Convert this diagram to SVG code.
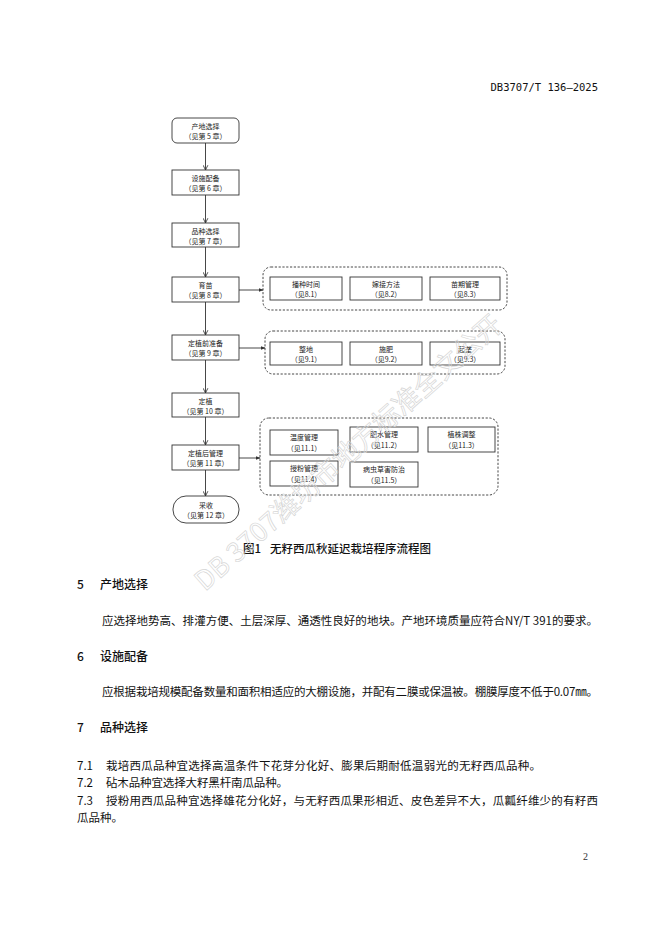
<svg xmlns="http://www.w3.org/2000/svg" width="662" height="936" viewBox="0 0 662 936">
<style>
.bg{fill:#ffffff}
.box{fill:#ffffff;stroke:#333;stroke-width:0.9}
.grp{fill:none;stroke:#333;stroke-width:0.9;stroke-dasharray:2.2 1.6}
.bt{font-family:"Noto Sans CJK SC","Liberation Sans",sans-serif;font-size:7px;fill:#222;text-anchor:middle}
.con{stroke:#333;stroke-width:0.9;fill:none}
.body{font-family:"Noto Sans CJK SC","Liberation Serif",serif;font-size:11.5px;fill:#111}
.head{font-family:"Noto Sans CJK SC","Liberation Sans",sans-serif;font-size:12px;font-weight:500;fill:#111}
.wm{font-family:"Noto Sans CJK SC","Liberation Sans",sans-serif;font-size:27px;fill:none;stroke:#d6d6d6;stroke-width:0.7}
</style>
<defs>
<marker id="ah" viewBox="0 0 10 10" refX="9" refY="5" markerWidth="6" markerHeight="6" orient="auto" markerUnits="userSpaceOnUse">
<path d="M1,1 L9,5 L1,9" fill="none" stroke="#333" stroke-width="1.4"/>
</marker>
<marker id="ahf" viewBox="0 0 10 10" refX="9" refY="5" markerWidth="5" markerHeight="5" orient="auto" markerUnits="userSpaceOnUse">
<path d="M0,1 L10,5 L0,9 Z" fill="#333"/>
</marker>
</defs>
<rect class="bg" x="0" y="0" width="662" height="936"/>

<text x="598" y="91" text-anchor="end" font-family="'DejaVu Sans Mono','Liberation Mono',monospace" font-size="10.5" fill="#111">DB3707/T 136—2025</text>

<g id="connectors">
<line class="con" x1="205.5" y1="143" x2="205.5" y2="170" marker-end="url(#ah)"/>
<line class="con" x1="205.5" y1="195" x2="205.5" y2="223" marker-end="url(#ah)"/>
<line class="con" x1="205.5" y1="247" x2="205.5" y2="277" marker-end="url(#ah)"/>
<line class="con" x1="205.5" y1="302" x2="205.5" y2="335" marker-end="url(#ah)"/>
<line class="con" x1="205.5" y1="360" x2="205.5" y2="393" marker-end="url(#ah)"/>
<line class="con" x1="205.5" y1="417" x2="205.5" y2="445" marker-end="url(#ah)"/>
<line class="con" x1="205.5" y1="470" x2="205.5" y2="496" marker-end="url(#ah)"/>
<line class="con" x1="239" y1="290" x2="263" y2="290" marker-end="url(#ahf)"/>
<line class="con" x1="239" y1="348" x2="265" y2="348" marker-end="url(#ahf)"/>
<line class="con" x1="239" y1="458" x2="260" y2="458" marker-end="url(#ahf)"/>
</g>

<g id="n1"><rect class="box" x="172" y="118" width="67" height="25" rx="5"/><text class="bt" x="205.5" y="129">产地选择</text><text class="bt" x="205.5" y="139">（见第 5 章）</text></g>
<g id="n2"><rect class="box" x="172" y="170" width="67" height="25"/><text class="bt" x="205.5" y="181">设施配备</text><text class="bt" x="205.5" y="191">（见第 6 章）</text></g>
<g id="n3"><rect class="box" x="172" y="223" width="67" height="24"/><text class="bt" x="205.5" y="233.5">品种选择</text><text class="bt" x="205.5" y="243.5">（见第 7 章）</text></g>
<g id="n4"><rect class="box" x="172" y="277" width="67" height="25"/><text class="bt" x="205.5" y="288">育苗</text><text class="bt" x="205.5" y="298">（见第 8 章）</text></g>
<g id="n5"><rect class="box" x="172" y="335" width="67" height="25"/><text class="bt" x="205.5" y="346">定植前准备</text><text class="bt" x="205.5" y="356">（见第 9 章）</text></g>
<g id="n6"><rect class="box" x="172" y="393" width="67" height="24"/><text class="bt" x="205.5" y="403.5">定植</text><text class="bt" x="205.5" y="413.5">（见第 10 章）</text></g>
<g id="n7"><rect class="box" x="172" y="445" width="67" height="25"/><text class="bt" x="205.5" y="456">定植后管理</text><text class="bt" x="205.5" y="466">（见第 11 章）</text></g>
<g id="n8"><rect class="box" x="173" y="496" width="66" height="27" rx="13"/><text class="bt" x="206" y="508">采收</text><text class="bt" x="206" y="518">（见第 12 章）</text></g>

<g id="g1">
<rect class="grp" x="263" y="267" width="244" height="43" rx="8"/>
<rect class="box" x="270" y="277" width="72" height="23"/><text class="bt" x="306" y="286.5">播种时间</text><text class="bt" x="306" y="296.5">（见8.1）</text>
<rect class="box" x="350" y="277" width="72" height="23"/><text class="bt" x="386" y="286.5">嫁接方法</text><text class="bt" x="386" y="296.5">（见8.2）</text>
<rect class="box" x="430" y="277" width="70" height="23"/><text class="bt" x="465" y="286.5">苗期管理</text><text class="bt" x="465" y="296.5">（见8.3）</text>
</g>
<g id="g2">
<rect class="grp" x="265" y="331" width="240" height="43" rx="8"/>
<rect class="box" x="270" y="342" width="72" height="23"/><text class="bt" x="306" y="351.5">整地</text><text class="bt" x="306" y="361.5">（见9.1）</text>
<rect class="box" x="350" y="342" width="72" height="23"/><text class="bt" x="386" y="351.5">施肥</text><text class="bt" x="386" y="361.5">（见9.2）</text>
<rect class="box" x="430" y="342" width="70" height="23"/><text class="bt" x="465" y="351.5">起垄</text><text class="bt" x="465" y="361.5">（见9.3）</text>
</g>
<g id="g3">
<rect class="grp" x="260" y="418" width="238" height="77" rx="9"/>
<rect class="box" x="270" y="430" width="68" height="25"/><text class="bt" x="304" y="440">温度管理</text><text class="bt" x="304" y="450.5">（见11.1）</text>
<rect class="box" x="350" y="427" width="68" height="25"/><text class="bt" x="384" y="437">肥水管理</text><text class="bt" x="384" y="447.5">（见11.2）</text>
<rect class="box" x="428" y="427" width="67" height="25"/><text class="bt" x="461.5" y="437">植株调整</text><text class="bt" x="461.5" y="447.5">（见11.3）</text>
<rect class="box" x="270" y="461" width="68" height="25"/><text class="bt" x="304" y="471">授粉管理</text><text class="bt" x="304" y="481.5">（见11.4）</text>
<rect class="box" x="350" y="462" width="68" height="25"/><text class="bt" x="384" y="472">病虫草害防治</text><text class="bt" x="384" y="482.5">（见11.5）</text>
</g>

<text x="243" y="553" font-family="'Noto Sans CJK SC','Liberation Sans',sans-serif" font-size="11.5" font-weight="500" fill="#111">图1</text>
<text x="270" y="553" font-family="'Noto Sans CJK SC','Liberation Sans',sans-serif" font-size="11.5" font-weight="500" fill="#111">无籽西瓜秋延迟栽培程序流程图</text>

<text class="head" x="77" y="589">5</text><text class="head" x="100" y="589">产地选择</text>
<text class="body" x="102" y="625" textLength="496" lengthAdjust="spacing">应选择地势高、排灌方便、土层深厚、通透性良好的地块。产地环境质量应符合NY/T 391的要求。</text>

<text class="head" x="77" y="661">6</text><text class="head" x="100" y="661">设施配备</text>
<text class="body" x="102" y="696" textLength="496" lengthAdjust="spacing">应根据栽培规模配备数量和面积相适应的大棚设施，并配有二膜或保温被。棚膜厚度不低于0.07㎜。</text>

<text class="head" x="77" y="732">7</text><text class="head" x="100" y="732">品种选择</text>
<text class="body" x="77" y="770">7.1</text><text class="body" x="106" y="770" textLength="435" lengthAdjust="spacing">栽培西瓜品种宜选择高温条件下花芽分化好、膨果后期耐低温弱光的无籽西瓜品种。</text>
<text class="body" x="77" y="787">7.2</text><text class="body" x="106" y="787" textLength="182" lengthAdjust="spacing">砧木品种宜选择大籽黑杆南瓜品种。</text>
<text class="body" x="77" y="805">7.3</text><text class="body" x="106" y="805" textLength="492" lengthAdjust="spacing">授粉用西瓜品种宜选择雄花分化好，与无籽西瓜果形相近、皮色差异不大，瓜瓤纤维少的有籽西</text>
<text class="body" x="77" y="822">瓜品种。</text>

<text x="583" y="860" font-family="'Liberation Serif',serif" font-size="10" fill="#333">2</text>

<g id="watermark">
<text class="wm" transform="translate(205,592) rotate(-41.5)">DB 3707潍坊市地方标准全文公开</text>
</g>
</svg>
